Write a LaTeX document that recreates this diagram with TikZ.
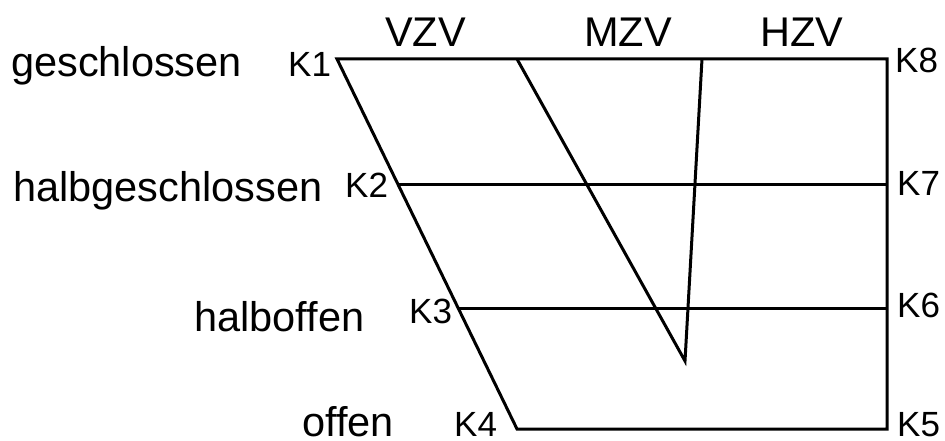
\documentclass[tikz,border=0pt]{standalone}
\usepackage{fontspec}
\setmainfont{Liberation Sans}
\begin{document}
\begin{tikzpicture}[x=1pt,y=-1pt,
  big/.style={anchor=base west,inner sep=0pt,font=\fontsize{41.5}{41.5}\selectfont},
  klab/.style={anchor=base west,inner sep=0pt,font=\fontsize{35}{35}\selectfont},
  edge/.style={line width=3pt,line join=miter,black}]
\useasboundingbox (0,0) rectangle (945,441);
% corners
\coordinate (K1) at (337,59);
\coordinate (K8) at (887,59);
\coordinate (K2) at (397,184);
\coordinate (K7) at (887,184);
\coordinate (K3) at (458,308);
\coordinate (K6) at (887,308);
\coordinate (K4) at (517,429);
\coordinate (K5) at (887,429);
\coordinate (M1) at (517,59);
\coordinate (H1) at (702,59);
\coordinate (V) at (685,361);
% lines
\draw[edge] (K1) -- (K8) -- (K5) -- (K4) -- cycle;
\draw[edge] (K2) -- (K7);
\draw[edge] (K3) -- (K6);
\draw[edge] (M1) -- (V) -- (H1);
% labels
\node[big] (lg) at (11,77) {geschlossen};
\node[big] (lhg) at (13,201) {halbgeschlossen};
\node[big] (lho) at (194,331) {halboffen};
\node[big] (lo) at (302,436) {offen};
\node[big] (lv) at (385,47) {VZV};
\node[big] (lm) at (584,47) {MZV};
\node[big] (lh) at (760,47) {HZV};
\node[klab] (k1) at (288,77) {K1};
\node[klab] (k2) at (345,197) {K2};
\node[klab] (k3) at (409,323) {K3};
\node[klab] (k4) at (454,436) {K4};
\node[klab] (k8) at (895,73) {K8};
\node[klab] (k7) at (897,195) {K7};
\node[klab] (k6) at (897,317) {K6};
\node[klab] (k5) at (897,436) {K5};
\end{tikzpicture}
\end{document}
